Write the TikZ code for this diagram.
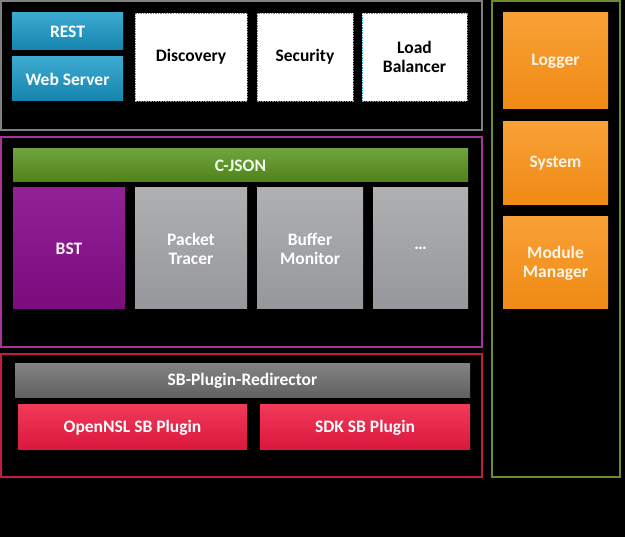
\documentclass[tikz,border=0pt]{standalone}
\usepackage{fontspec}
\setmainfont{Carlito}
\usetikzlibrary{calc}

\definecolor{restblue}{HTML}{1A9AC8}
\definecolor{restdark}{HTML}{1585AE}
\definecolor{dashteal}{HTML}{2AA7C9}
\definecolor{mgrorange}{HTML}{F8961F}
\definecolor{mgrdark}{HTML}{EF8A15}
\definecolor{jsongreen}{HTML}{5E9622}
\definecolor{jsondark}{HTML}{4F8219}
\definecolor{bstpurple}{HTML}{8B138F}
\definecolor{bstdark}{HTML}{7A0C7E}
\definecolor{featgray}{HTML}{A6A7A9}
\definecolor{featdark}{HTML}{96979A}
\definecolor{sbgray}{HTML}{717171}
\definecolor{sbdark}{HTML}{606060}
\definecolor{plugred}{HTML}{EE1E42}
\definecolor{pluddark}{HTML}{DA163C}
\definecolor{framegray}{HTML}{808080}
\definecolor{framepurple}{HTML}{A8329A}
\definecolor{framered}{HTML}{C41A40}
\definecolor{framegreen}{HTML}{6E8B2E}

\begin{document}
\begin{tikzpicture}[x=1pt, y=-1pt,
            block/.style={anchor=north west, inner sep=0pt, outer sep=0pt, align=center,
                font=\fontsize{17.5}{19}\selectfont\bfseries, text=white},
            blue block/.style={block, top color=restblue!85!white, bottom color=restdark},
            white block/.style={block, fill=white, text=black, draw=dashteal,
                line width=0.8pt, dash pattern=on 1.5pt off 1pt},
            orange block/.style={block, top color=mgrorange!90!white, bottom color=mgrdark, text=orange!8!white},
            green block/.style={block, top color=jsongreen!88!white, bottom color=jsondark, text=green!6!white},
            purple block/.style={block, top color=bstpurple!94!white, bottom color=bstdark, text=magenta!6!white},
            gray block/.style={block, top color=featgray!90!white, bottom color=featdark, text=white},
            dark block/.style={block, top color=sbgray!88!white, bottom color=sbdark},
            red block/.style={block, top color=plugred!88!white, bottom color=pluddark},
            frame/.style={line width=1.5pt}
            ]
            \fill[black] (0,0) rectangle (625,537);
            \useasboundingbox (0,0) rectangle (625,537);

            % outer frames
            \draw[frame, framegray] (1,1) rectangle (482,130);
            \draw[frame, framepurple] (1,137) rectangle (482,347);
            \draw[frame, framered] (1,354) rectangle (482,477);
            \draw[frame, framegreen] (492,1) rectangle (620,477);

            % northbound / services
            \node[blue block, minimum width=111pt, minimum height=37pt] (rest) at (12,13) {REST};
            \node[blue block, minimum width=111pt, minimum height=44pt] (webserver) at (12,57) {Web Server};
            \node[white block, minimum width=112pt, minimum height=88pt] (discovery) at (135,13) {Discovery};
            \node[white block, minimum width=96pt, minimum height=88pt] (security) at (257,13) {Security};
            \node[white block, minimum width=105pt, minimum height=88pt] (loadbal) at (362,13) {Load\\Balancer};

            % common modules
            \node[orange block, minimum width=105pt, minimum height=96pt] (logger) at (503,13) {Logger};
            \node[orange block, minimum width=105pt, minimum height=83pt] (system) at (503,122) {System};
            \node[orange block, minimum width=105pt, minimum height=92pt] (modmgr) at (503,217) {Module\\Manager};

            % features
            \node[green block, minimum width=455pt, minimum height=33pt] (cjson) at (13,149) {C-JSON};
            \node[purple block, minimum width=112pt, minimum height=121pt] (bst) at (13,188) {BST};
            \node[gray block, minimum width=112pt, minimum height=121pt] (pkttracer) at (135,188) {Packet\\Tracer};
            \node[gray block, minimum width=106pt, minimum height=121pt] (bufmon) at (257,188) {Buffer\\Monitor};
            \node[gray block, minimum width=95pt, minimum height=121pt] (more) at (373,188) {\ldots};

            % southbound
            \node[dark block, minimum width=455pt, minimum height=34pt] (redirector) at (15,364) {SB-Plugin-Redirector};
            \node[red block, minimum width=229pt, minimum height=45pt] (opennsl) at (18,405) {OpenNSL SB Plugin};
            \node[red block, minimum width=210pt, minimum height=45pt] (sdk) at (260,405) {SDK SB Plugin};
        \end{tikzpicture}
\end{document}
